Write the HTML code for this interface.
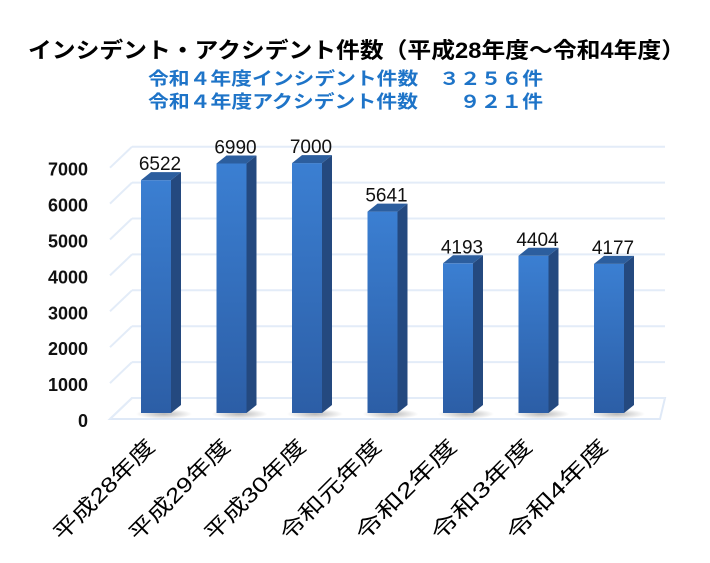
<!DOCTYPE html>
<html><head><meta charset="utf-8"><style>
html,body{margin:0;padding:0;background:#fff;}
svg{display:block;}
text{font-family:"Liberation Sans","Noto Sans CJK JP",sans-serif;}
</style></head><body>
<svg id="chart" width="710" height="563" viewBox="0 0 710 563">
<defs>
<linearGradient id="front" x1="0" y1="0" x2="0" y2="1"><stop offset="0" stop-color="#3b7fd2"/><stop offset="1" stop-color="#2c5ea6"/></linearGradient>
<radialGradient id="shadow"><stop offset="0" stop-color="#888" stop-opacity="0.6"/><stop offset="1" stop-color="#888" stop-opacity="0"/></radialGradient>
</defs>
<text x="28" y="58" font-size="22" font-weight="bold" fill="#000" textLength="657" lengthAdjust="spacingAndGlyphs">インシデント・アクシデント件数（平成28年度～令和4年度）</text>
<text x="148" y="85" font-size="18" font-weight="bold" fill="#1e74c8" textLength="395" lengthAdjust="spacingAndGlyphs">令和４年度インシデント件数　３２５６件</text>
<text x="148" y="108" font-size="18" font-weight="bold" fill="#1e74c8" textLength="395" lengthAdjust="spacingAndGlyphs">令和４年度アクシデント件数　　９２１件</text>
<g id="grid"></g><g id="bars"></g><g id="labels"></g>
</svg>
<script>
const categories=["平成28年度","平成29年度","平成30年度","令和元年度","令和2年度","令和3年度","令和4年度"];
const values=[6522,6990,7000,5641,4193,4404,4177];
const ticks=[0,1000,2000,3000,4000,5000,6000,7000];
const NS="http://www.w3.org/2000/svg";
const base=413, scale=0.0357, x0=141, step=75.5, bw=30, dx=10, dy=8;
function yv(v){return base-v*scale;}
function el(t,a,p){const e=document.createElementNS(NS,t);for(const k in a)e.setAttribute(k,a[k]);p.appendChild(e);return e;}
const g=document.getElementById('grid'),b=document.getElementById('bars'),l=document.getElementById('labels');
el('polygon',{points:"110,419 660,419 665,398 132,398",fill:"none",stroke:"#dfe9f7","stroke-width":2},g);
ticks.forEach(t=>{
  const y=398-t*0.0359;
  const ln=el('line',{x1:132,y1:y,x2:665,y2:y,stroke:"#e3ecf8","stroke-width":2},g);
  
  
  const dl=el('line',{x1:110,y1:y+21,x2:132,y2:y,stroke:"#e3ecf8","stroke-width":2},g);
  
  
  const tx=el('text',{x:88,y:y+29,"font-size":18,"font-weight":"bold","text-anchor":"end",fill:"#111"},l);
  tx.textContent=t;
  
  
});
values.forEach((v,i)=>{
  const x=x0+i*step, top=yv(v);
  el('ellipse',{cx:x+bw/2+8,cy:base+1,rx:28,ry:5,fill:"url(#shadow)"},b);
  const f=el('rect',{x:x,y:top,width:bw,height:base-top,fill:"url(#front)"},b);
  
  
  el('polygon',{points:`${x+bw},${top} ${x+bw+dx},${top-dy} ${x+bw+dx},${base-dy} ${x+bw},${base}`,fill:"#24497f"},b);
  el('polygon',{points:`${x},${top} ${x+dx},${top-dy} ${x+bw+dx},${top-dy} ${x+bw},${top}`,fill:"#2c5e9e"},b);
  const vt=el('text',{x:x+bw/2+4,y:top-10,"font-size":19,"text-anchor":"middle",fill:"#111"},l);
  vt.textContent=v;
  
  
  const cx=x+bw/2;
  const ct=el('text',{x:cx,y:448,"font-size":21,"text-anchor":"end",fill:"#000",textLength:133,lengthAdjust:"spacingAndGlyphs",transform:`rotate(-45 ${cx} 448)`},l);
  ct.textContent=categories[i];
  
  
});
</script>
</body></html>
